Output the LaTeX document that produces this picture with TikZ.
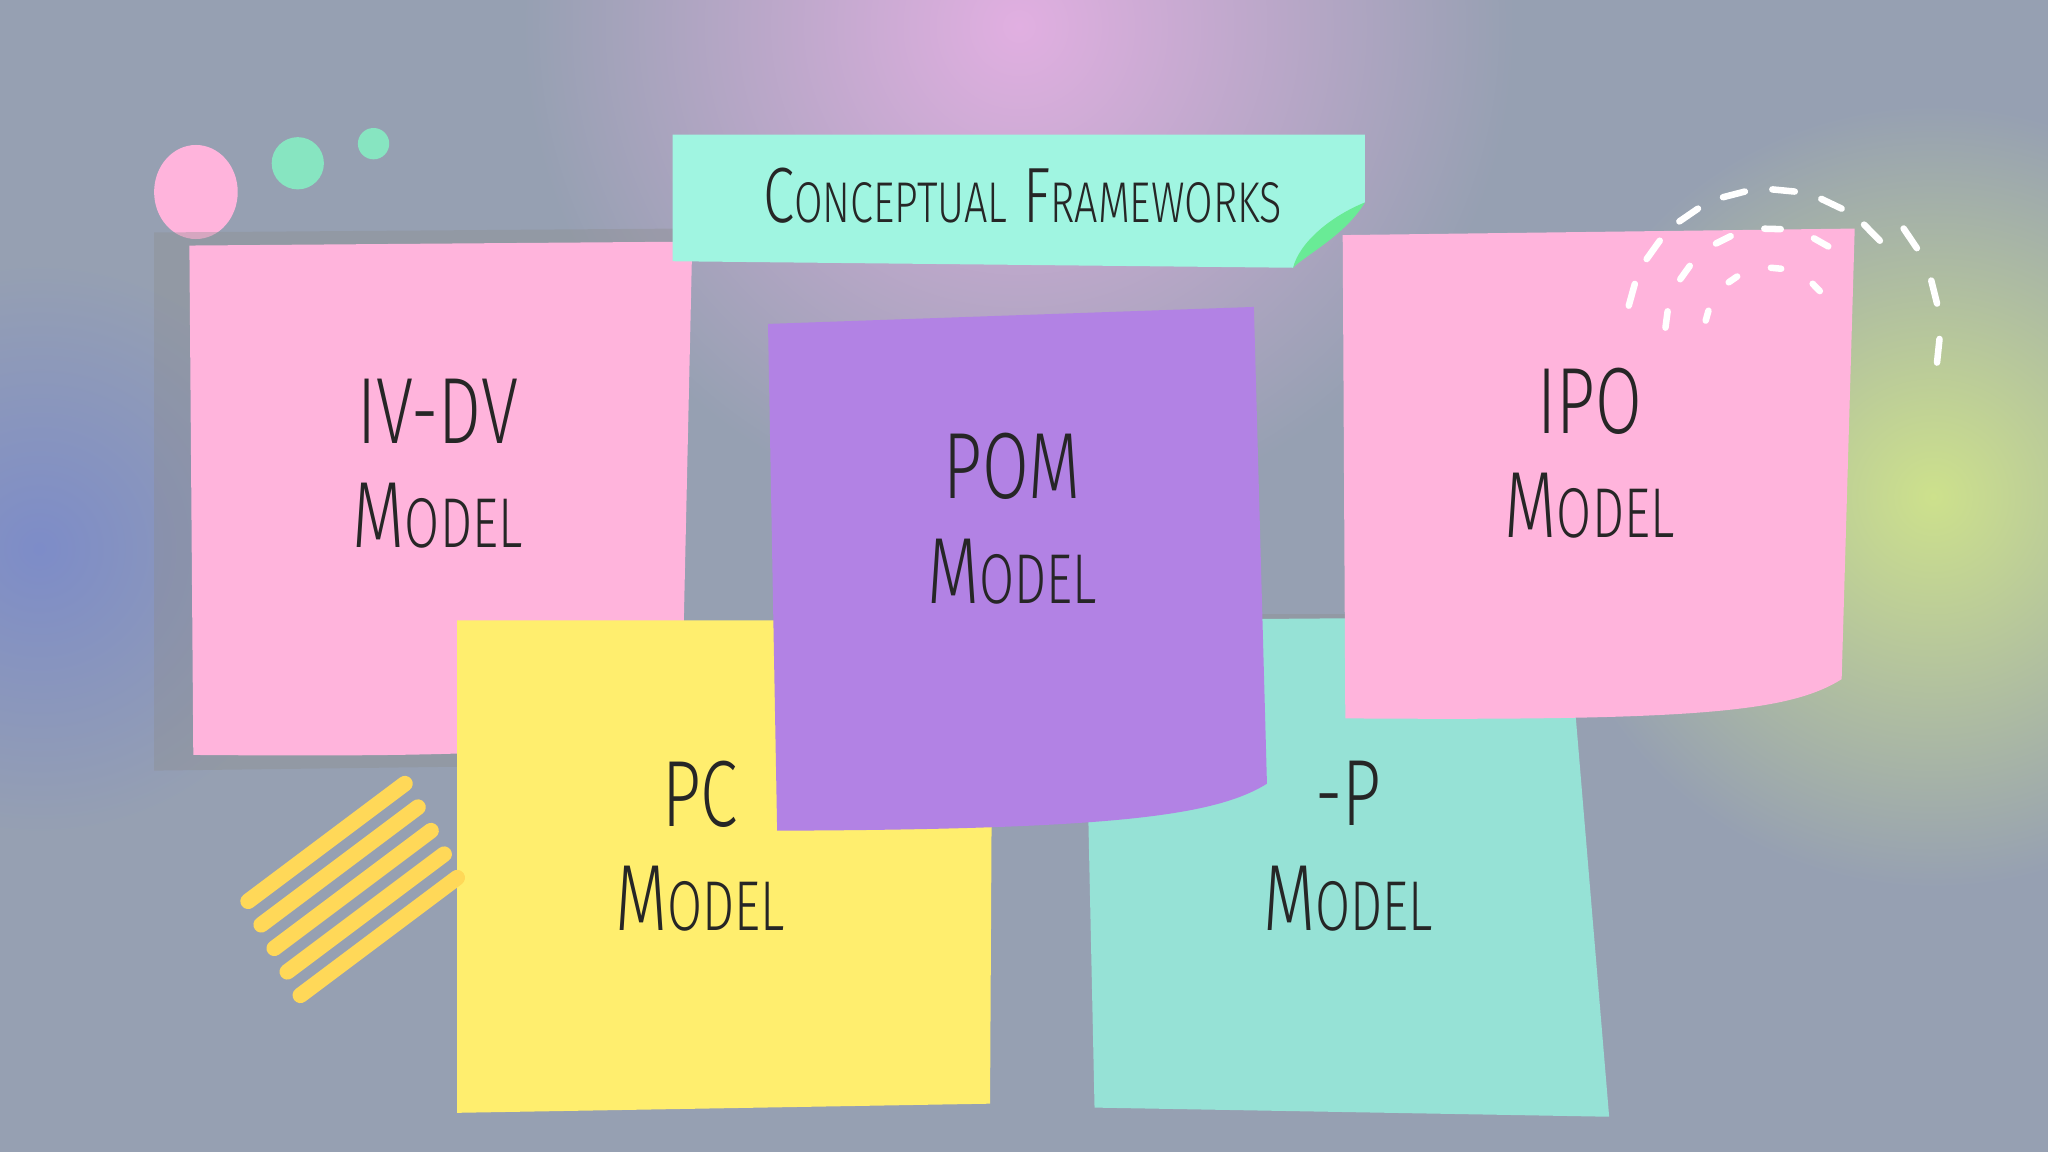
\documentclass[tikz,border=0pt]{standalone}
\usepackage{fontspec}
\usetikzlibrary{calc}
\setmainfont{Fira Sans}
\begin{document}
\begin{tikzpicture}[x=0.5pt,y=-0.5pt,
  lbl/.style={font=\fontsize{36}{40}\selectfont\fontspec{Fira Sans Light}, text=black!85, align=center, xscale=0.72},
  shadowfill/.style={fill=black!45, opacity=0.35},
  dashw/.style={white, line width=2.5pt, line cap=round}]
\definecolor{bg}{RGB}{150,160,178}
\definecolor{npink}{RGB}{255,180,220}
\definecolor{nyel}{RGB}{255,238,110}
\definecolor{npur}{RGB}{178,130,228}
\definecolor{nteal}{RGB}{150,226,214}
\definecolor{banner}{RGB}{160,245,225}
\definecolor{glowp}{RGB}{225,175,225}
\definecolor{glowy}{RGB}{205,225,140}
\definecolor{glowb}{RGB}{125,140,200}
\useasboundingbox (0,0) rectangle (1568,882);
\fill[bg] (0,0) rectangle (1568,882);
\begin{scope}
\clip (0,0) rectangle (1568,882);
\shade[inner color=glowp, outer color=bg] (780,20) circle (380);
\shade[inner color=glowy, outer color=bg] (1480,380) circle (300);
\shade[inner color=glowb, outer color=bg] (30,420) circle (220);
\end{scope}
% dots
\fill[npink] (150,147) ellipse (32 and 36);
\fill[nteal!90!green] (228,125) circle (20);
\fill[nteal!90!green] (286,110) circle (12);
% left pink note
\fill[shadowfill] (118,178) -- (520,175) -- (510,585) -- (118,590) -- cycle;
\fill[npink] (145,188) -- (530,185) -- (522,545) .. controls (480,575) and (400,580) .. (148,578) -- cycle;
% yellow
\fill[nyel] (350,475) -- (760,475) -- (758,845) -- (350,852) -- cycle;
% teal
\fill[shadowfill] (960,470) -- (1180,470) -- (1180,560) -- (960,560) -- cycle;
\fill[nteal] (830,475) -- (1200,472) -- (1232,855) -- (838,848) -- cycle;
% purple
\fill[npur] (588,248) -- (960,235) -- (970,600) .. controls (930,625) and (850,635) .. (595,636) -- cycle;
% right pink
\fill[npink] (1028,180) -- (1420,175) -- (1410,520) .. controls (1370,545) and (1300,552) .. (1030,550) -- cycle;
% banner
\fill[banner] (515,103) -- (1045,103) -- (1045,155) .. controls (1020,170) and (1000,185) .. (990,205) -- (515,200) -- cycle;
\fill[nteal!70!green] (1045,155) .. controls (1020,165) and (995,185) .. (990,205) .. controls (1000,195) and (1030,180) .. (1045,155) -- cycle;
% yellow strokes
\foreach \i in {0,...,4}
  \draw[nyel!80!orange, line width=6pt, line cap=round] (190+\i*10,690+\i*18) -- (310+\i*10,600+\i*18);
% white dashes
\coordinate (dc) at (1355,255);
\foreach \r/\s in {50/40,80/28,110/20}{
  \foreach \t in {40,...,175}{
    \pgfmathtruncatemacro{\ok}{mod(\t,\s)==0}
    \ifnum\ok=1
      \draw[dashw] ($(dc)+(-\t:\r)$) -- ($(dc)+(-\t-9:\r)$);
    \fi
  }
}
\foreach \t in {-10,10,30}
  \draw[dashw] ($(dc)+(-\t:130)$) -- ($(dc)+(-\t-8:130)$);
% text
\node[lbl, font=\fontsize{30}{34}\selectfont\fontspec{Fira Sans Light}] (title) at (783,150) {C{\fontsize{22}{24}\selectfont ONCEPTUAL} F{\fontsize{22}{24}\selectfont RAMEWORKS}};
\node[lbl] (t1) at (335,355) {IV-DV\\M{\fontsize{27}{30}\selectfont ODEL}};
\node[lbl] (t2) at (775,397) {POM\\M{\fontsize{27}{30}\selectfont ODEL}};
\node[lbl] (t3) at (1217,347) {IPO\\M{\fontsize{27}{30}\selectfont ODEL}};
\node[lbl] (t4) at (536,648) {PC\\M{\fontsize{27}{30}\selectfont ODEL}};
\node[lbl] (t5) at (1032,648) {-P\\M{\fontsize{27}{30}\selectfont ODEL}};
\end{tikzpicture}
\end{document}
